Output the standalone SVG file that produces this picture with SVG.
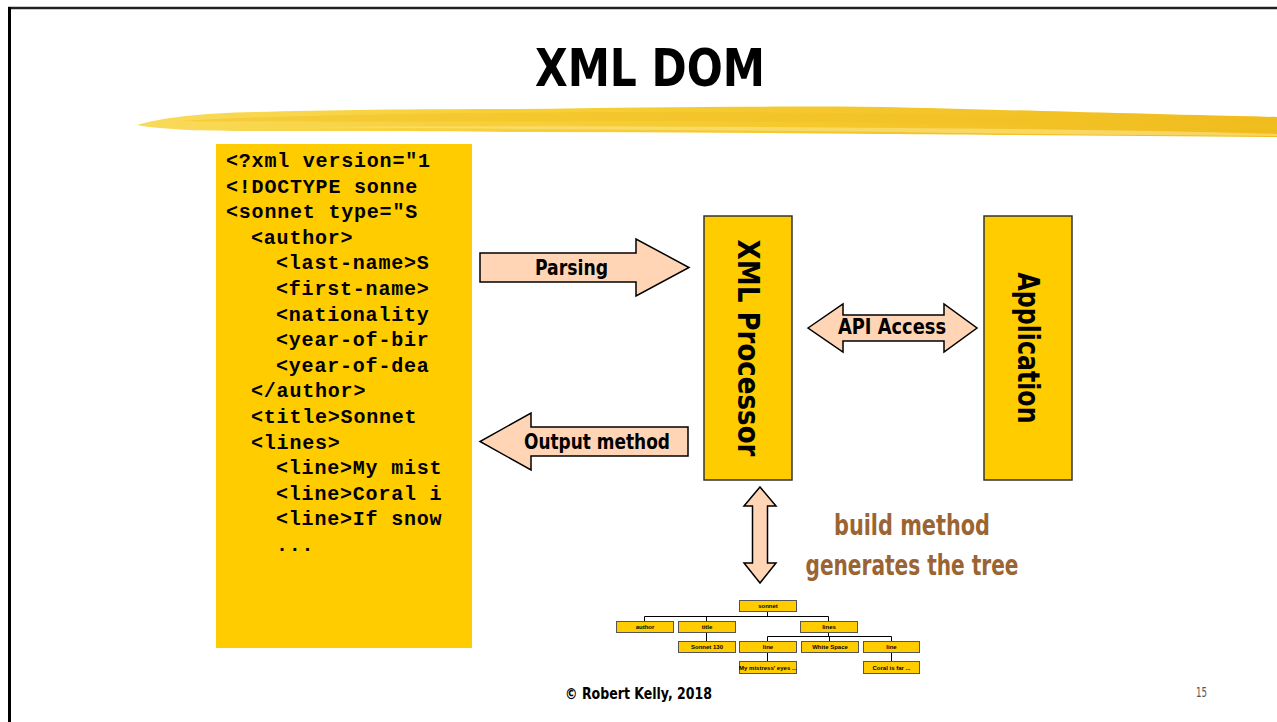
<svg xmlns="http://www.w3.org/2000/svg" width="1277" height="722" viewBox="0 0 1277 722">
<defs>
<linearGradient id="brush" x1="0" y1="0" x2="1" y2="0">
<stop offset="0" stop-color="#F9DA5A"/>
<stop offset="0.3" stop-color="#F7D038"/>
<stop offset="0.7" stop-color="#F3C52A"/>
<stop offset="1" stop-color="#F0BC1C"/>
</linearGradient>
<style>
.hand{font-family:"DejaVu Sans Condensed","DejaVu Sans",sans-serif;font-weight:bold;fill:#000;}
.code{font-family:"Liberation Mono",monospace;font-weight:bold;font-size:20px;letter-spacing:0.8px;fill:#000;}
.box{fill:#FFCC00;stroke:#333;stroke-width:1.5;}
.arrow{fill:#FFD5B5;stroke:#000;stroke-width:1.5;stroke-linejoin:miter;}
.tbox{fill:#FFCC00;stroke:#555;stroke-width:1;}
.ttext{font-family:"Liberation Sans",Arial,sans-serif;font-weight:bold;font-size:6px;fill:#000;text-anchor:middle;}
.tline{stroke:#000;stroke-width:1;fill:none;}
.note{fill:#9B6433;}
</style>
</defs>
<rect width="1277" height="722" fill="#fff"/>
<!-- frame -->
<line x1="8" y1="8" x2="1277" y2="8" stroke="#222" stroke-width="2.5"/>
<line x1="9.5" y1="7" x2="9.5" y2="722" stroke="#000" stroke-width="3"/>
<!-- title -->
<text class="hand" x="650" y="86" font-size="52" text-anchor="middle" textLength="230" lengthAdjust="spacingAndGlyphs">XML DOM</text>
<!-- brush stroke -->
<g id="brush-stroke">
<path d="M137,125 C160,118 200,113 255,112 C330,110 420,109 520,109 C650,107 780,106 880,107 C980,109 1100,113 1277,117 L1277,137 C1150,136 1000,135 880,134 C760,133 640,132 520,132 C420,131 330,131 253,131 C205,131 165,130 137,125 Z" fill="url(#brush)"/>
<path d="M180,121 C300,114 500,112 700,112 C900,113 1100,117 1277,123 L1277,130 C1100,126 900,122 700,121 C500,121 300,122 180,121 Z" fill="#F2C024" opacity="0.5"/>
<path d="M300,127 C500,126 700,126 900,128 C1050,129 1180,131 1277,134 L1277,136 C1150,135 1000,134 900,132 C700,130 500,129 300,127 Z" fill="#FCE58C" opacity="0.6"/>
</g>
<!-- code block -->
<g id="xml-source">
<rect x="216" y="144" width="256" height="504" fill="#FFCC00"/>
<text class="code" xml:space="preserve"><tspan x="226" y="167">&lt;?xml version="1</tspan><tspan x="226" y="192.6">&lt;!DOCTYPE sonne</tspan><tspan x="226" y="218.2">&lt;sonnet type="S</tspan><tspan x="251" y="243.8">&lt;author&gt;</tspan><tspan x="276" y="269.4">&lt;last-name&gt;S</tspan><tspan x="276" y="295">&lt;first-name&gt;</tspan><tspan x="276" y="320.6">&lt;nationality</tspan><tspan x="276" y="346.2">&lt;year-of-bir</tspan><tspan x="276" y="371.8">&lt;year-of-dea</tspan><tspan x="251" y="397.4">&lt;/author&gt;</tspan><tspan x="251" y="423">&lt;title&gt;Sonnet</tspan><tspan x="251" y="448.6">&lt;lines&gt;</tspan><tspan x="276" y="474.2">&lt;line&gt;My mist</tspan><tspan x="276" y="499.8">&lt;line&gt;Coral i</tspan><tspan x="276" y="525.4">&lt;line&gt;If snow</tspan><tspan x="276" y="551">...</tspan></text>
</g>
<!-- XML Processor -->
<g id="xml-processor">
<rect class="box" x="704" y="216" width="88" height="264"/>
<text class="hand" x="748" y="348" font-size="30" text-anchor="middle" dominant-baseline="central" textLength="217" lengthAdjust="spacingAndGlyphs" transform="rotate(90 748 348)">XML Processor</text>
</g>
<!-- Application -->
<g id="application">
<rect class="box" x="984" y="216" width="88" height="264"/>
<text class="hand" x="1028" y="348" font-size="30" text-anchor="middle" dominant-baseline="central" textLength="151" lengthAdjust="spacingAndGlyphs" transform="rotate(90 1028 348)">Application</text>
</g>
<!-- connectors -->
<g id="connectors">
<g id="parsing">
<polygon class="arrow" points="480,253 636,253 636,239 689,267.5 636,296 636,282 480,282"/>
<text class="hand" x="571.5" y="267.5" font-size="22" text-anchor="middle" dominant-baseline="central" textLength="73" lengthAdjust="spacingAndGlyphs">Parsing</text>
</g>
<g id="output-method">
<polygon class="arrow" points="688,427 531,427 531,413 480,441.5 531,470 531,456 688,456"/>
<text class="hand" x="597" y="441" font-size="22" text-anchor="middle" dominant-baseline="central" textLength="146" lengthAdjust="spacingAndGlyphs">Output method</text>
</g>
<g id="api-access">
<polygon class="arrow" points="808,328 843,304 843,315 944,315 944,304 977,328 944,352 944,341 843,341 843,352"/>
<text class="hand" x="892" y="326" font-size="22" text-anchor="middle" dominant-baseline="central" textLength="108" lengthAdjust="spacingAndGlyphs">API Access</text>
</g>
<g id="build">
<polygon class="arrow" points="760,487 776,506 767.5,506 767.5,563 776,563 760,583 744,563 752.5,563 752.5,506 744,506"/>
</g>
<g id="tree-lines">
<polyline class="tline" points="767.5,611 767.5,616.5"/>
<polyline class="tline" points="644.5,621 644.5,616.5 828.5,616.5 828.5,621"/>
<polyline class="tline" points="706.5,616.5 706.5,621"/>
<polyline class="tline" points="706.5,632 706.5,641"/>
<polyline class="tline" points="828.5,632 828.5,636.5"/>
<polyline class="tline" points="767.5,641 767.5,636.5 891.5,636.5 891.5,641"/>
<polyline class="tline" points="829.5,636.5 829.5,641"/>
<polyline class="tline" points="767.5,653 767.5,661"/>
<polyline class="tline" points="891.5,653 891.5,661"/>
</g>
</g>
<text x="912" y="525" font-size="28" text-anchor="middle" dominant-baseline="central" class="hand note" textLength="156" lengthAdjust="spacingAndGlyphs">build method</text>
<text x="912" y="565" font-size="28" text-anchor="middle" dominant-baseline="central" class="hand note" textLength="213" lengthAdjust="spacingAndGlyphs">generates the tree</text>
<!-- tree nodes -->
<g id="t-sonnet"><rect class="tbox" x="739.5" y="600.5" width="57" height="11"/><text class="ttext" x="768" y="608">sonnet</text></g>
<g id="t-author"><rect class="tbox" x="616.5" y="621.5" width="57" height="11"/><text class="ttext" x="645" y="629">author</text></g>
<g id="t-title"><rect class="tbox" x="678.5" y="621.5" width="57" height="11"/><text class="ttext" x="707" y="629">title</text></g>
<g id="t-lines"><rect class="tbox" x="800.5" y="621.5" width="57" height="11"/><text class="ttext" x="829" y="629">lines</text></g>
<g id="t-sonnet130"><rect class="tbox" x="678.5" y="641.5" width="57" height="11"/><text class="ttext" x="707" y="649">Sonnet 130</text></g>
<g id="t-line1"><rect class="tbox" x="739.5" y="641.5" width="57" height="11"/><text class="ttext" x="768" y="649">line</text></g>
<g id="t-white"><rect class="tbox" x="801.5" y="641.5" width="57" height="11"/><text class="ttext" x="830" y="649">White Space</text></g>
<g id="t-line2"><rect class="tbox" x="863.5" y="641.5" width="56" height="11"/><text class="ttext" x="891.5" y="649">line</text></g>
<g id="t-mistress"><rect class="tbox" x="739.5" y="661.5" width="57" height="12"/><text class="ttext" x="768" y="670">My mistress' eyes ...</text></g>
<g id="t-coral"><rect class="tbox" x="863.5" y="661.5" width="56" height="12"/><text class="ttext" x="891.5" y="670">Coral is far ...</text></g>
<!-- footer -->
<text class="hand" x="638.5" y="693" font-size="16" text-anchor="middle" dominant-baseline="central" textLength="147" lengthAdjust="spacingAndGlyphs">© Robert Kelly, 2018</text>
<text x="1201.5" y="692" font-size="14" text-anchor="middle" dominant-baseline="central" font-family="'DejaVu Sans',sans-serif" fill="#555" textLength="11" lengthAdjust="spacingAndGlyphs">15</text>
</svg>
